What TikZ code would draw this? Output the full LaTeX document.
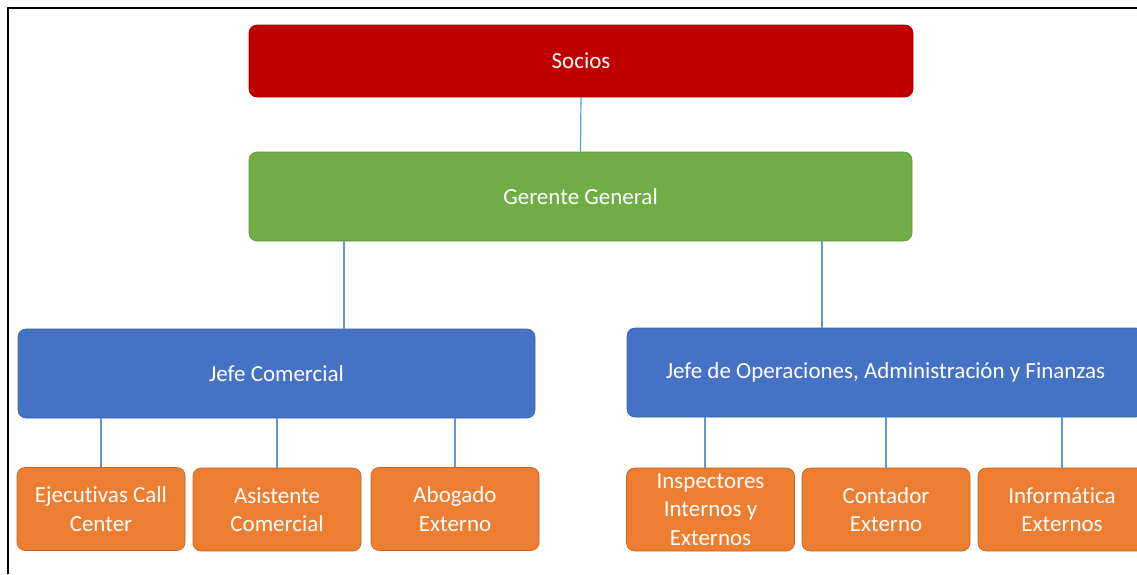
\documentclass[tikz,border=0pt]{standalone}
\usepackage{fontspec}
\setmainfont{Carlito}[Ligatures={NoCommon}]
\definecolor{cred}{HTML}{C00000}
\definecolor{cgreen}{HTML}{70AD47}
\definecolor{cblue}{HTML}{4472C4}
\definecolor{corange}{HTML}{ED7D31}
\definecolor{cline}{HTML}{5B9BD5}
\begin{document}
\begin{tikzpicture}[x=1pt,y=-1pt,
  box/.style={rounded corners=8pt, text=white, align=center, font=\fontsize{23}{28.5}\selectfont, inner sep=0pt},
  topbox/.style={box, fill=cred, draw=cred!80!black, line width=0.6pt},
  genbox/.style={box, fill=cgreen, draw=cgreen!85!black, line width=0.6pt},
  jefebox/.style={box, fill=cblue, draw=cblue!85!black, line width=0.6pt, minimum width=517pt, minimum height=89pt},
  leafbox/.style={box, fill=corange, draw=corange!80!black, line width=0.6pt, minimum width=168pt, minimum height=83pt},
  conn/.style={draw=cline, line width=1.2pt}]
\useasboundingbox (0,0) rectangle (1137,574);
\fill[white] (0,0) rectangle (1137,574);
\draw[line width=2.5pt, black] (8,574) -- (8,8) -- (1137,8);

\node[topbox, minimum width=664pt, minimum height=72pt] (soc) at (581,61) {Socios};
\node[genbox, minimum width=663pt, minimum height=89pt] (gg) at (580.5,196.5) {Gerente General};
\node[jefebox] (jc) at (276.5,373.5) {Jefe Comercial};
\node[jefebox] (jo) at (885.5,372.5) {Jefe de Operaciones, Administración y Finanzas};

\node[leafbox] (ej) at (101,509) {Ejecutivas Call\\Center};
\node[leafbox] (as) at (277,509.5) {Asistente\\Comercial};
\node[leafbox] (ab) at (455,509) {Abogado\\Externo};
\node[leafbox] (in) at (710.5,509.5) {Inspectores\\Internos y\\Externos};
\node[leafbox] (co) at (886,509.5) {Contador\\Externo};
\node[leafbox] (inf) at (1062,509.5) {Informática\\Externos};

\coordinate (xa) at (344,0);
\coordinate (xb) at (822,0);
\coordinate (xc) at (705,0);

\draw[conn] (soc.south) -- (gg.north);
\draw[conn] (gg.south -| xa) -- (jc.north -| xa);
\draw[conn] (gg.south -| xb) -- (jo.north -| xb);
\draw[conn] (jc.south -| ej.north) -- (ej.north);
\draw[conn] (jc.south -| as.north) -- (as.north);
\draw[conn] (jc.south -| ab.north) -- (ab.north);
\draw[conn] (jo.south -| xc) -- (in.north -| xc);
\draw[conn] (jo.south -| co.north) -- (co.north);
\draw[conn] (jo.south -| inf.north) -- (inf.north);
\end{tikzpicture}
\end{document}
